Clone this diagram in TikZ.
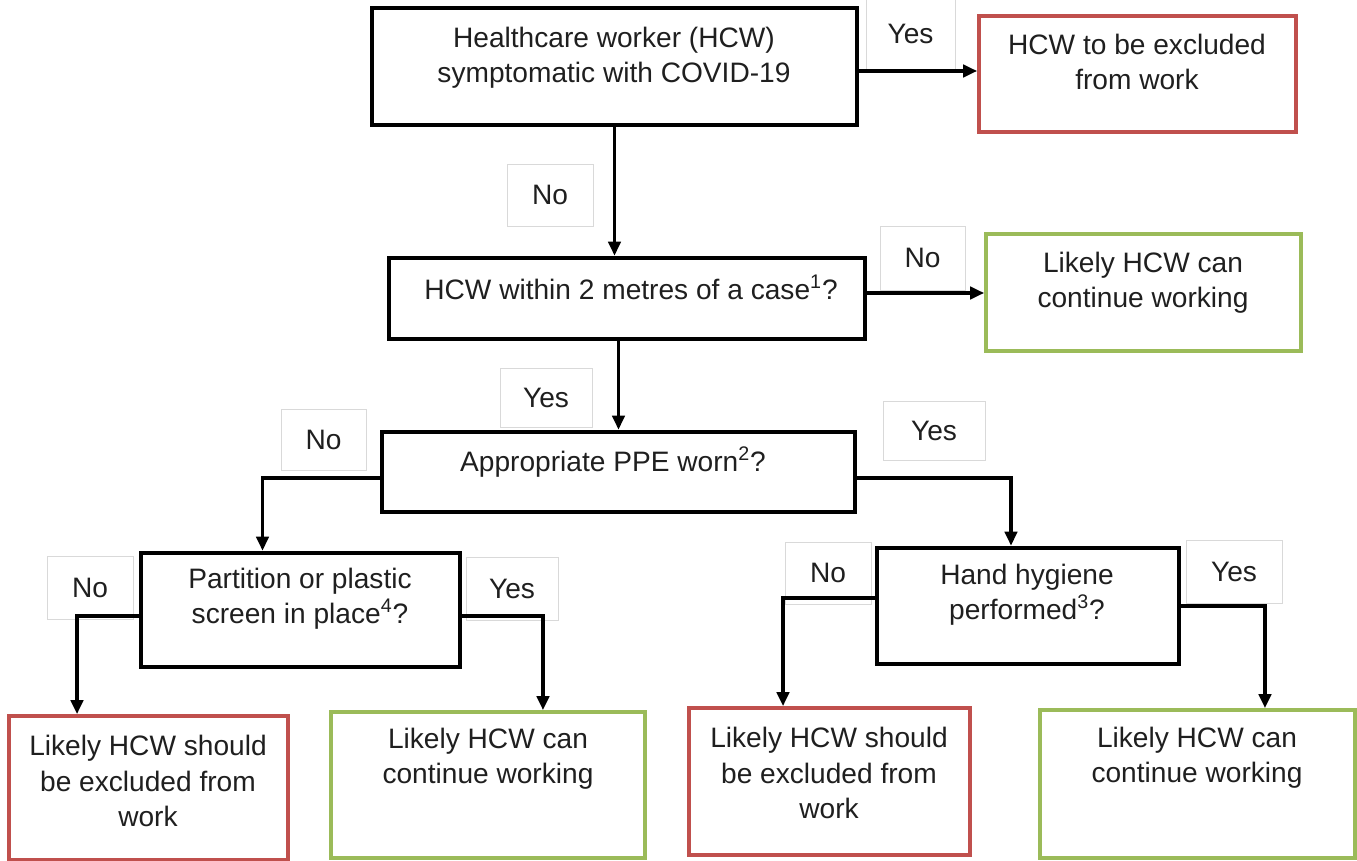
\documentclass[tikz,border=0pt]{standalone}
\usepackage{fontspec}
\setmainfont{Liberation Sans}
\usetikzlibrary{arrows.meta}
\definecolor{boxred}{HTML}{C0504D}
\definecolor{boxgreen}{HTML}{9BBB59}
\definecolor{tabgrey}{HTML}{D9D9D9}

\begin{document}
\begin{tikzpicture}[x=0.02cm, y=-0.02cm,
    font=\fontsize{16}{20}\selectfont,
    qbox/.style={draw=black, line width=2.6pt, inner sep=0pt},
    redbox/.style={draw=boxred, line width=2.1pt, inner sep=0pt},
    greenbox/.style={draw=boxgreen, line width=2.1pt, inner sep=0pt},
    txt/.style={align=center, inner sep=0pt, text=black!88},
    tab/.style={draw=tabgrey, line width=0.5pt, fill=white, inner sep=0pt, text=black!88},
    flow/.style={line width=2pt, -{Triangle[length=8pt, width=7pt]}},
  ]
\useasboundingbox (0,0) rectangle (1357,861);

% yes / no tabs
\node[tab, minimum width=1.78cm, minimum height=1.48cm] (l1) at (910.5,34) {Yes};
\node[tab, minimum width=1.72cm, minimum height=1.24cm] (l2) at (550,195) {No};
\node[tab, minimum width=1.7cm, minimum height=1.28cm] (l3) at (922.5,258) {No};
\node[tab, minimum width=1.84cm, minimum height=1.18cm] (l4) at (546,397.5) {Yes};
\node[tab, minimum width=1.7cm, minimum height=1.22cm] (l5) at (323.5,439.5) {No};
\node[tab, minimum width=2.04cm, minimum height=1.18cm] (l6) at (934,430.5) {Yes};
\node[tab, minimum width=1.72cm, minimum height=1.26cm] (l7) at (90,587.5) {No};
\node[tab, minimum width=1.84cm, minimum height=1.26cm] (l8) at (512,588.5) {Yes};
\node[tab, minimum width=1.72cm, minimum height=1.24cm] (l9) at (828,573) {No};
\node[tab, minimum width=1.92cm, minimum height=1.26cm] (l10) at (1234,571.5) {Yes};

% question boxes
\node[qbox, minimum width=9.7cm, minimum height=2.34cm] (q1) at (614.5,66.5) {};
\node[txt] (q1t) at (614,57.5) {Healthcare worker (HCW)\\symptomatic with COVID-19};
\node[qbox, minimum width=9.52cm, minimum height=1.62cm] (q2) at (627,298.5) {};
\node[txt] (q2t) at (631,287) {HCW within 2 metres of a case\textsuperscript{1}?};
\node[qbox, minimum width=9.46cm, minimum height=1.6cm] (q3) at (618.5,472) {};
\node[txt] (q3t) at (613,462) {Appropriate PPE worn\textsuperscript{2}?};
\node[qbox, minimum width=6.38cm, minimum height=2.28cm] (q4) at (300.5,610) {};
\node[txt] (q4t) at (300,598.5) {Partition or plastic\\screen in place\textsuperscript{4}?};
\node[qbox, minimum width=6.04cm, minimum height=2.32cm] (q5) at (1028,606) {};
\node[txt] (q5t) at (1027,595) {Hand hygiene\\performed\textsuperscript{3}?};

% outcome boxes
\node[redbox, minimum width=6.34cm, minimum height=2.32cm] (r1) at (1137.5,74) {};
\node[txt] (r1t) at (1137,62) {HCW to be excluded\\from work};
\node[greenbox, minimum width=6.3cm, minimum height=2.34cm] (g1) at (1143.5,292.5) {};
\node[txt] (g1t) at (1143,282.5) {Likely HCW can\\continue working};
\node[redbox, minimum width=5.58cm, minimum height=2.88cm] (r2) at (148.5,788) {};
\node[txt] (r2t) at (148,781) {Likely HCW should\\be excluded from\\work};
\node[greenbox, minimum width=6.28cm, minimum height=2.92cm] (g2) at (488,785) {};
\node[txt] (g2t) at (488,759) {Likely HCW can\\continue working};
\node[redbox, minimum width=5.62cm, minimum height=2.94cm] (r3) at (829.5,781.5) {};
\node[txt] (r3t) at (829,773) {Likely HCW should\\be excluded from\\work};
\node[greenbox, minimum width=6.3cm, minimum height=2.96cm] (g3) at (1197.5,784) {};
\node[txt] (g3t) at (1197,758) {Likely HCW can\\continue working};

% connectors
\draw[flow] ([yshift=-0.09cm]q1.east) -- ([yshift=-0.09cm]q1.east -| r1.west);
\draw[flow] (q1.south) -- (q1.south |- q2.north);
\draw[flow] ([yshift=0.11cm]q2.east) -- ([yshift=0.11cm]q2.east -| g1.west);
\draw[flow] (q2.south -| q3) -- (q3.north);
\draw[flow] ([yshift=-0.12cm]q3.west) -| ([xshift=-0.76cm]q4.north);
\draw[flow] ([yshift=-0.12cm]q3.east) -| ([xshift=-0.34cm]q5.north);
\draw[flow] ([yshift=-0.12cm]q4.west) -| ([xshift=-1.43cm]r2.north);
\draw[flow] ([yshift=-0.12cm]q4.east) -| ([xshift=1.1cm]g2.north);
\draw[flow] ([yshift=0.16cm]q5.west) -| ([xshift=-0.93cm]r3.north);
\draw[flow] (q5.east) -| ([xshift=1.35cm]g3.north);
\end{tikzpicture}
\end{document}
